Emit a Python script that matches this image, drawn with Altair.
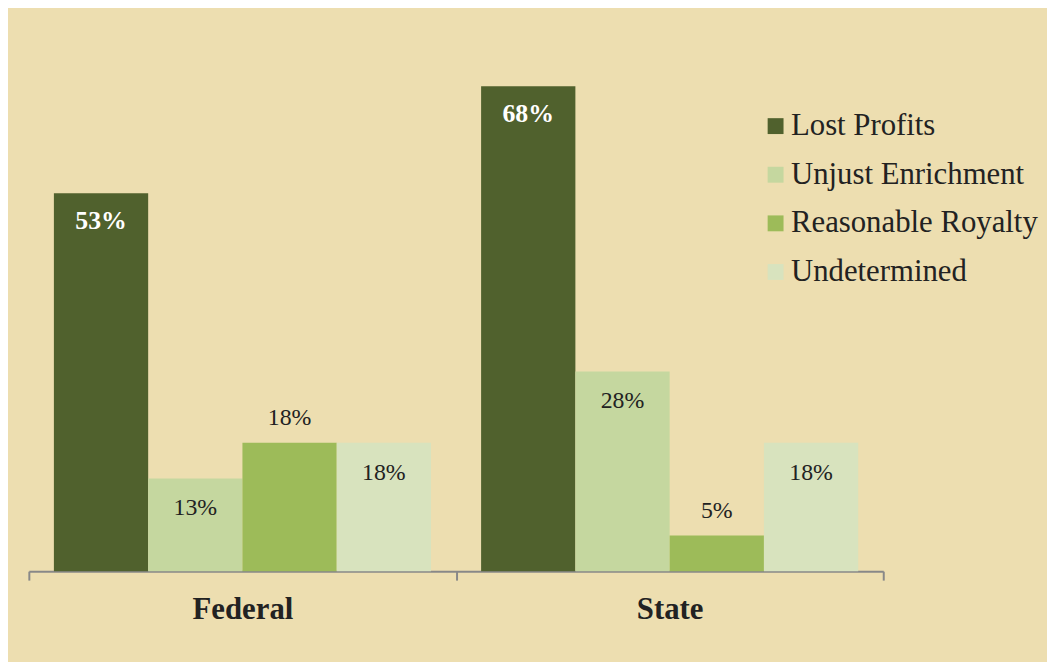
import altair as alt
import pandas as pd

courts = ["Federal", "State"]
categories = ["Lost Profits", "Unjust Enrichment", "Reasonable Royalty", "Undetermined"]
federal_values = [53, 13, 18, 18]
state_values = [68, 28, 5, 18]
# whether the value label sits above the bar (True) or inside it (False)
federal_label_above = [False, False, True, False]
state_label_above = [False, False, True, False]
colors = ["#50612D", "#C5D79F", "#9DBB59", "#D8E3BE"]

rows = []
for court, vals, above in [("Federal", federal_values, federal_label_above),
                           ("State", state_values, state_label_above)]:
    for i, (cat, v, a) in enumerate(zip(categories, vals, above)):
        rows.append({"court": court, "category": cat, "value": v,
                     "label": f"{v}%", "above": a, "lead": i == 0})
df = pd.DataFrame(rows)

SERIF = "'Liberation Serif', 'Times New Roman', Times, serif"

base = alt.Chart(df).encode(
    x=alt.X("court:N", sort=courts,
            scale=alt.Scale(paddingInner=0, paddingOuter=0),
            axis=alt.Axis(title=None, labelFontSize=31, labelFont=SERIF,
                          labelFontWeight="bold", labelColor="#222222",
                          labelAngle=0, domainColor="#888888", domainWidth=2,
                          tickColor="#888888", tickWidth=2, tickSize=9,
                          tickBand="extent", labelPadding=15, grid=False)),
    xOffset=alt.XOffset("category:N", sort=categories,
                        scale=alt.Scale(paddingInner=0, paddingOuter=0.2658)),
    y=alt.Y("value:Q", scale=alt.Scale(domain=[0, 78.5], nice=False),
            axis=None),
)

bars = base.mark_bar(strokeWidth=0).encode(
    color=alt.Color("category:N", sort=categories,
                    scale=alt.Scale(domain=categories, range=colors),
                    legend=alt.Legend(title=None, orient="none",
                                      legendX=737, legendY=100,
                                      symbolType="square", symbolSize=256,
                                      symbolStrokeWidth=0, symbolOpacity=1,
                                      labelFont=SERIF, labelFontSize=31,
                                      labelColor="#222222", labelOffset=0,
                                      rowPadding=17, labelLimit=400))
)

lead_text = base.transform_filter("datum.lead").mark_text(
    font=SERIF, fontSize=26, fontWeight="bold", color="white",
    baseline="middle", dy=28
).encode(text="label:N")

inside_text = base.transform_filter("!datum.lead && !datum.above").mark_text(
    font=SERIF, fontSize=24, color="#222222", baseline="middle", dy=30
).encode(text="label:N")

above_text = base.transform_filter("!datum.lead && datum.above").mark_text(
    font=SERIF, fontSize=24, color="#222222", baseline="middle", dy=-25
).encode(text="label:N")

chart = alt.layer(bars, lead_text, inside_text, above_text).properties(
    width=861, height=564,
    background="#EDDEB0",
    padding={"left": 21, "top": 1, "right": 165, "bottom": 89},
    autosize=alt.AutoSizeParams(type="none"),
).configure_view(stroke=None)

chart.save("out.html", embed_options={"renderer": "svg", "actions": False})
